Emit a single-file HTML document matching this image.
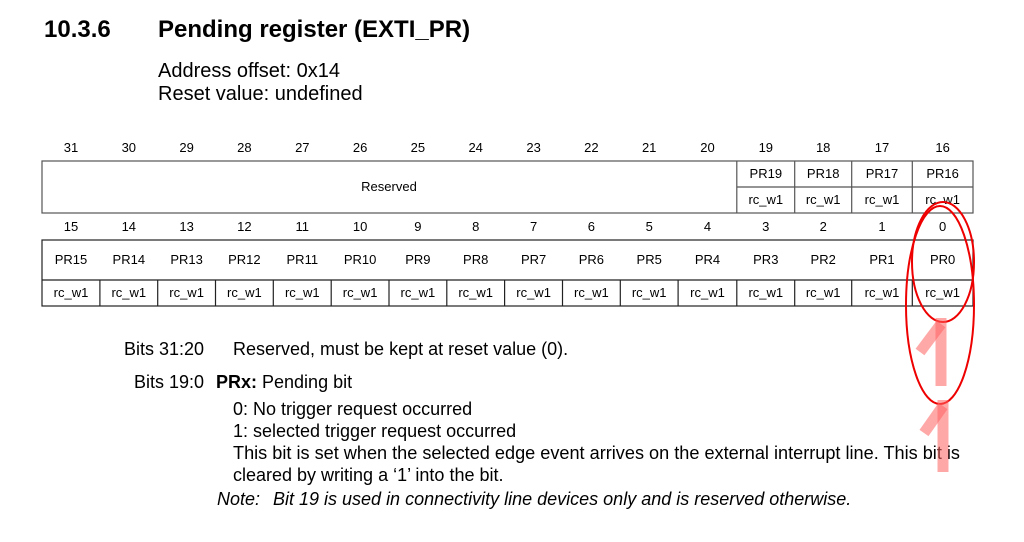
<!DOCTYPE html>
<html><head><meta charset="utf-8"><style>html,body{margin:0;padding:0;background:#fff}svg{display:block}</style></head>
<body>
<svg width="1024" height="542" viewBox="0 0 1024 542" xmlns="http://www.w3.org/2000/svg" font-family="Liberation Sans, Arial, sans-serif">
<rect width="1024" height="542" fill="#fff"/>
<text x="44" y="37" font-size="24" font-weight="bold">10.3.6</text>
<text x="158" y="37" font-size="24" font-weight="bold">Pending register (EXTI_PR)</text>
<text x="158" y="77" font-size="20">Address offset: 0x14</text>
<text x="158" y="100" font-size="20">Reset value: undefined</text>
<g stroke="#555" stroke-width="1.2" fill="none">
<rect x="42" y="161" width="931" height="52"/>
<line x1="736.8" y1="161" x2="736.8" y2="213"/>
<line x1="736.8" y1="187" x2="973" y2="187"/>
<line x1="794.7" y1="161" x2="794.7" y2="213"/>
<line x1="851.7" y1="161" x2="851.7" y2="213"/>
<line x1="912.3" y1="161" x2="912.3" y2="213"/>
</g>
<g stroke="#222" stroke-width="1.2" fill="none">
<rect x="42" y="240" width="931" height="66"/>
<line x1="42" y1="280" x2="973" y2="280"/>
<line x1="99.9" y1="280" x2="99.9" y2="306"/><line x1="157.7" y1="280" x2="157.7" y2="306"/>
<line x1="215.5" y1="280" x2="215.5" y2="306"/><line x1="273.3" y1="280" x2="273.3" y2="306"/>
<line x1="331.2" y1="280" x2="331.2" y2="306"/><line x1="389" y1="280" x2="389" y2="306"/>
<line x1="446.8" y1="280" x2="446.8" y2="306"/><line x1="504.6" y1="280" x2="504.6" y2="306"/>
<line x1="562.5" y1="280" x2="562.5" y2="306"/><line x1="620.3" y1="280" x2="620.3" y2="306"/>
<line x1="678.1" y1="280" x2="678.1" y2="306"/><line x1="736.8" y1="280" x2="736.8" y2="306"/>
<line x1="794.7" y1="280" x2="794.7" y2="306"/><line x1="851.7" y1="280" x2="851.7" y2="306"/>
<line x1="912.3" y1="280" x2="912.3" y2="306"/>
</g>
<g font-size="13" text-anchor="middle" fill="#000">
<text x="71" y="152">31</text><text x="128.8" y="152">30</text><text x="186.6" y="152">29</text><text x="244.4" y="152">28</text>
<text x="302.3" y="152">27</text><text x="360.1" y="152">26</text><text x="417.9" y="152">25</text><text x="475.7" y="152">24</text>
<text x="533.6" y="152">23</text><text x="591.4" y="152">22</text><text x="649.2" y="152">21</text><text x="707.5" y="152">20</text>
<text x="765.8" y="152">19</text><text x="823.2" y="152">18</text><text x="882" y="152">17</text><text x="942.6" y="152">16</text>
<text x="389" y="191">Reserved</text>
<text x="765.8" y="178">PR19</text><text x="823.2" y="178">PR18</text><text x="882" y="178">PR17</text><text x="942.6" y="178">PR16</text>
<text x="765.8" y="204">rc_w1</text><text x="823.2" y="204">rc_w1</text><text x="882" y="204">rc_w1</text><text x="942.6" y="204">rc_w1</text>
<text x="71" y="231">15</text><text x="128.8" y="231">14</text><text x="186.6" y="231">13</text><text x="244.4" y="231">12</text>
<text x="302.3" y="231">11</text><text x="360.1" y="231">10</text><text x="417.9" y="231">9</text><text x="475.7" y="231">8</text>
<text x="533.6" y="231">7</text><text x="591.4" y="231">6</text><text x="649.2" y="231">5</text><text x="707.5" y="231">4</text>
<text x="765.8" y="231">3</text><text x="823.2" y="231">2</text><text x="882" y="231">1</text><text x="942.6" y="231">0</text>
<text x="71" y="264">PR15</text><text x="128.8" y="264">PR14</text><text x="186.6" y="264">PR13</text><text x="244.4" y="264">PR12</text>
<text x="302.3" y="264">PR11</text><text x="360.1" y="264">PR10</text><text x="417.9" y="264">PR9</text><text x="475.7" y="264">PR8</text>
<text x="533.6" y="264">PR7</text><text x="591.4" y="264">PR6</text><text x="649.2" y="264">PR5</text><text x="707.5" y="264">PR4</text>
<text x="765.8" y="264">PR3</text><text x="823.2" y="264">PR2</text><text x="882" y="264">PR1</text><text x="942.6" y="264">PR0</text>
<text x="71" y="297">rc_w1</text><text x="128.8" y="297">rc_w1</text><text x="186.6" y="297">rc_w1</text><text x="244.4" y="297">rc_w1</text>
<text x="302.3" y="297">rc_w1</text><text x="360.1" y="297">rc_w1</text><text x="417.9" y="297">rc_w1</text><text x="475.7" y="297">rc_w1</text>
<text x="533.6" y="297">rc_w1</text><text x="591.4" y="297">rc_w1</text><text x="649.2" y="297">rc_w1</text><text x="707.5" y="297">rc_w1</text>
<text x="765.8" y="297">rc_w1</text><text x="823.2" y="297">rc_w1</text><text x="882" y="297">rc_w1</text><text x="942.6" y="297">rc_w1</text>
</g>
<g font-size="18" fill="#000">
<text x="124" y="355">Bits 31:20</text>
<text x="233" y="355">Reserved, must be kept at reset value (0).</text>
<text x="134" y="388">Bits 19:0</text>
<text x="216" y="388"><tspan font-weight="bold">PRx:</tspan> Pending bit</text>
<text x="233" y="415">0: No trigger request occurred</text>
<text x="233" y="437">1: selected trigger request occurred</text>
<text x="233" y="459" textLength="727" lengthAdjust="spacingAndGlyphs">This bit is set when the selected edge event arrives on the external interrupt line. This bit is</text>
<text x="233" y="481">cleared by writing a ‘1’ into the bit.</text>
<text x="217" y="505" font-style="italic">Note:</text>
<text x="273" y="505" font-style="italic">Bit 19 is used in connectivity line devices only and is reserved otherwise.</text>
</g>
<g fill="none" stroke="#e00" stroke-width="2">
<ellipse cx="943" cy="262" rx="31" ry="60"/>
<ellipse cx="940" cy="305" rx="34" ry="99"/>
</g>
<g stroke="#ff6060" stroke-opacity="0.55" stroke-width="11" fill="none">
<line x1="941" y1="318" x2="941" y2="386"/>
<line x1="920" y1="352" x2="941" y2="324"/>
<line x1="943" y1="400" x2="943" y2="472"/>
<line x1="924" y1="433" x2="943" y2="406"/>
</g>
</svg>
</body></html>
